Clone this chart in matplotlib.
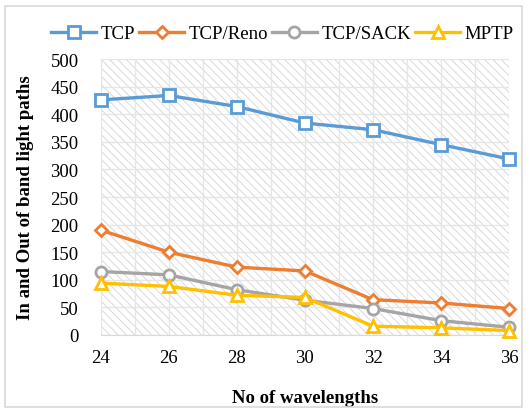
import matplotlib.pyplot as plt
from matplotlib.patches import Rectangle

plt.rcParams["font.family"] = ["Liberation Serif", "DejaVu Serif"]
plt.rcParams["hatch.color"] = "#d4d4d4"
plt.rcParams["hatch.linewidth"] = 0.6

wavelengths = [24, 26, 28, 30, 32, 34, 36]
tcp = [426, 434, 414, 384, 372, 345, 319]
tcp_reno = [190, 150, 123, 116, 64, 58, 48]
tcp_sack = [115, 109, 82, 63, 48, 26, 14]
mptp = [94, 88, 72, 68, 16, 13, 8]

series = [
    ("TCP", tcp, "#5B9BD5", "s", 8.5),
    ("TCP/Reno", tcp_reno, "#ED7D31", "D", 6.5),
    ("TCP/SACK", tcp_sack, "#A5A5A5", "o", 8),
    ("MPTP", mptp, "#FFC000", "^", 8),
]

fig = plt.figure(figsize=(5.28, 4.10), dpi=100)
fig.patches.append(Rectangle((0.01, 0.005), 0.978, 0.978, transform=fig.transFigure,
                             fill=False, edgecolor="#d9d9d9", lw=1.2))

ax = fig.add_axes([0.191, 0.1805, 0.773, 0.673])
ax.set_facecolor("white")
# diagonal hatch background of the plot area
ax.add_patch(Rectangle((0, 0), 1, 1, transform=ax.transAxes, facecolor="white",
                       edgecolor="#d4d4d4", lw=0, hatch="\\\\\\\\", zorder=0))

for name, vals, color, marker, ms in series:
    ax.plot(wavelengths, vals, color=color, lw=2.4, marker=marker, ms=ms,
            mfc="white", mec=color, mew=2, label=name, clip_on=False, zorder=3)

ax.set_xlim(24, 36)
ax.set_ylim(0, 500)
ax.set_xticks(wavelengths)
ax.set_xticks(range(24, 37), minor=True)
ax.set_yticks(range(0, 501, 50))
ax.grid(True, which="both", color="#e6e6e6", lw=1, zorder=1)
ax.set_axisbelow(True)
for s in ["top", "left", "right"]:
    ax.spines[s].set_visible(False)
ax.spines["bottom"].set_color("#d9d9d9")
ax.tick_params(which="both", length=0, labelsize=13.5, colors="black")
ax.tick_params(axis="y", pad=16)
ax.tick_params(axis="x", pad=10)

ax.set_xlabel("No of wavelengths", fontsize=13.5, fontweight="bold", labelpad=17)
ax.set_ylabel("In and Out of band light paths", fontsize=13.5, fontweight="bold", labelpad=12)

ax.legend(loc="center", bbox_to_anchor=(0.535, 0.915), bbox_transform=fig.transFigure,
          ncol=4, frameon=False, fontsize=13.5, handlelength=2.4, columnspacing=0.2,
          handletextpad=0.25, borderaxespad=0)

fig.savefig("out.png", dpi=100)
